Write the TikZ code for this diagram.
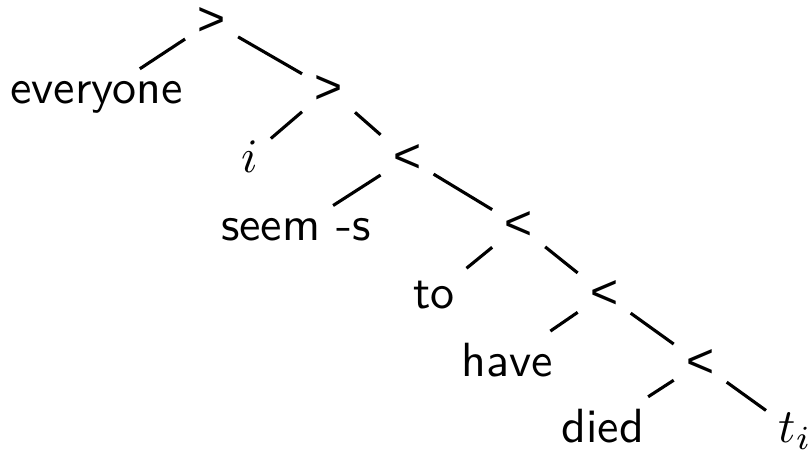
\documentclass[tikz,border=0pt]{standalone}
\usepackage{fontspec}
\newfontfamily\opfont{Liberation Sans}
\begin{document}
\begin{tikzpicture}[every node/.style={font=\sffamily,inner sep=2.4pt},
  op/.style={anchor=center,font=\opfont},
  leaf/.style={anchor=base},
  treeedge/.style={line width=0.65pt}]
  \useasboundingbox (0,0) rectangle (5.93,3.31);
  % the combining steps
  \node[op] (r1) at (1.549,3.152) {>};
  \node[op] (r2) at (2.405,2.658) {>};
  \node[op] (r3) at (2.980,2.153) {<};
  \node[op] (r4) at (3.797,1.658) {<};
  \node[op] (r5) at (4.423,1.157) {<};
  \node[op] (r6) at (5.126,0.652) {<};
  % the words
  \node[leaf] (everyone) at (0.707,2.553) {everyone};
  \node[leaf] (idx) at (1.831,2.050) {$i$};
  \node[leaf] (seem) at (2.167,1.552) {seem -s};
  \node[leaf] (to) at (3.178,1.054) {to};
  \node[leaf] (have) at (3.716,0.551) {have};
  \node[leaf] (died) at (4.412,0.070) {died};
  \node[leaf] (trace) at (5.821,0.070) {$t_i$};
  \draw[treeedge] (r1)--(everyone);
  \draw[treeedge] (r1)--(r2);
  \draw[treeedge] (r2)--(idx);
  \draw[treeedge] (r2)--(r3);
  \draw[treeedge] (r3)--(seem);
  \draw[treeedge] (r3)--(r4);
  \draw[treeedge] (r4)--(to);
  \draw[treeedge] (r4)--(r5);
  \draw[treeedge] (r5)--(have);
  \draw[treeedge] (r5)--(r6);
  \draw[treeedge] (r6)--(died);
  \draw[treeedge] (r6)--(trace);
\end{tikzpicture}
\end{document}
